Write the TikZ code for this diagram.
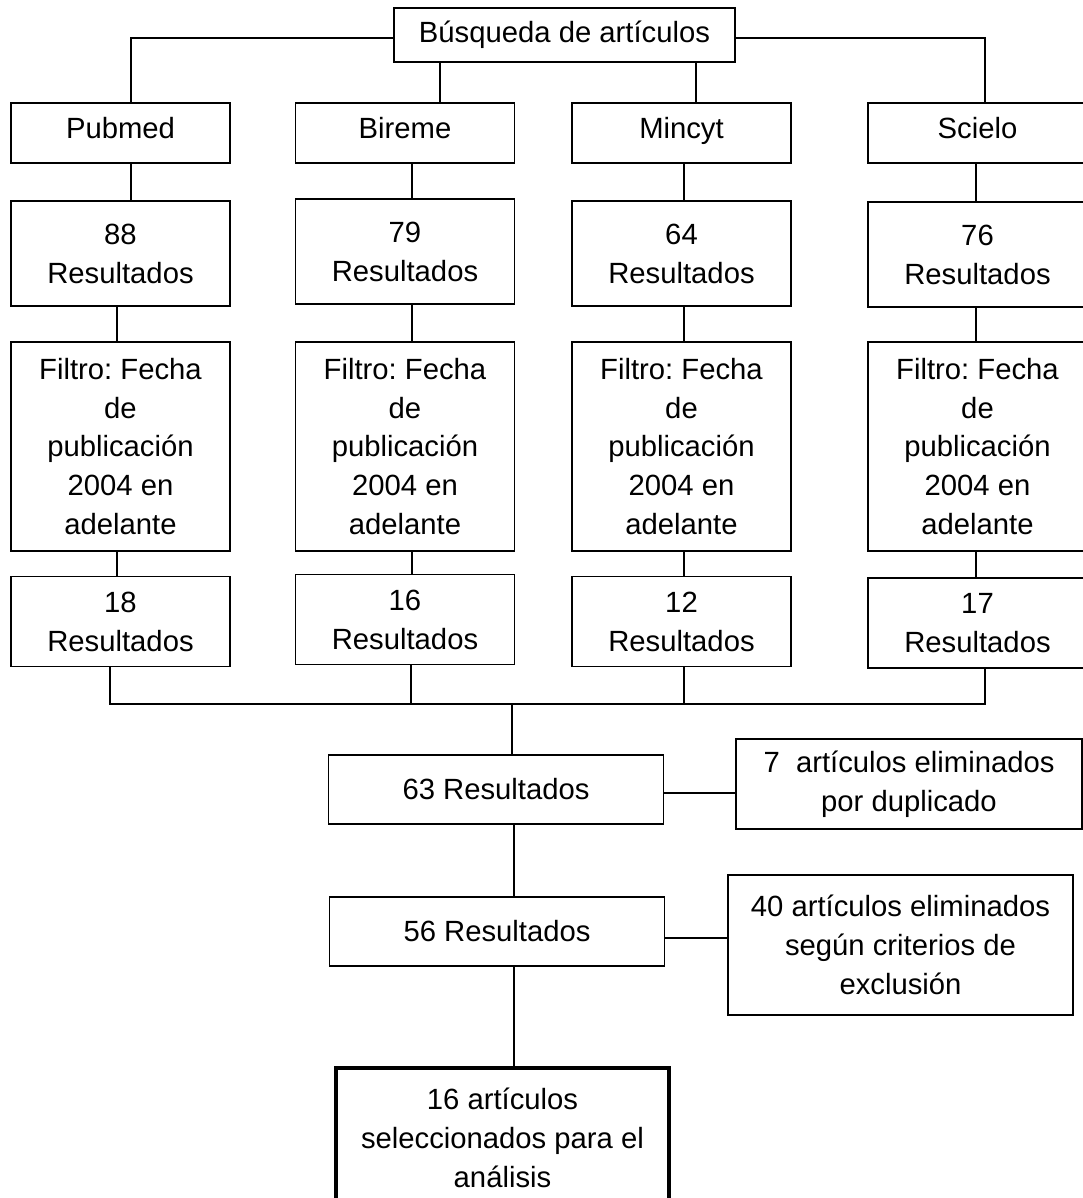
\documentclass[tikz,border=0pt]{standalone}
\usepackage{fontspec}
\setmainfont{Liberation Sans}
\frenchspacing

\begin{document}
\begin{tikzpicture}[x=0.025cm,y=-0.025cm,
  caja/.style={draw,line width=1pt,inner sep=0pt,outer sep=0pt,align=center,
    font=\fontsize{20.8}{27.7}\selectfont},
  col/.style={caja,minimum width=5.475cm},
  unalinea/.style={text height=1.5ex,text depth=.15ex},
  linea/.style={line width=1.1pt}]

\useasboundingbox (0,0) rectangle (1083,1198);

%search
\node [caja,minimum width=8.525cm,minimum height=1.35cm] (busqueda) at (564.5,35) {Búsqueda de artículos};

%databases
\node [col,unalinea,minimum height=1.5cm] (pubmed) at (120.5,133) {Pubmed};
\node [col,unalinea,minimum height=1.5cm] (bireme) at (405,133) {Bireme};
\node [col,unalinea,minimum height=1.5cm] (mincyt) at (681.5,133) {Mincyt};
\node [col,unalinea,minimum height=1.5cm] (scielo) at (977.5,133) {Scielo};

%first results
\node [col,minimum height=2.625cm] (pubmedA) at (120.5,253.5) {88\\Resultados};
\node [col,minimum height=2.625cm] (biremeA) at (405,251.5) {79\\Resultados};
\node [col,minimum height=2.625cm] (mincytA) at (681.5,253.5) {64\\Resultados};
\node [col,minimum height=2.625cm] (scieloA) at (977.5,254.5) {76\\Resultados};

%date filter
\node [col,minimum height=5.225cm] (pubmedF) at (120.5,446.5) {Filtro: Fecha\\de\\publicación\\2004 en\\adelante};
\node [col,minimum height=5.225cm] (biremeF) at (405,446.5) {Filtro: Fecha\\de\\publicación\\2004 en\\adelante};
\node [col,minimum height=5.225cm] (mincytF) at (681.5,446.5) {Filtro: Fecha\\de\\publicación\\2004 en\\adelante};
\node [col,minimum height=5.225cm] (scieloF) at (977.5,446.5) {Filtro: Fecha\\de\\publicación\\2004 en\\adelante};

%filtered results
\node [col,minimum height=2.25cm] (pubmedB) at (120.5,621.5) {18\\Resultados};
\node [col,minimum height=2.25cm] (biremeB) at (405,619.5) {16\\Resultados};
\node [col,minimum height=2.25cm] (mincytB) at (681.5,621.5) {12\\Resultados};
\node [col,minimum height=2.25cm] (scieloB) at (977.5,623) {17\\Resultados};

%merged results
\node [caja,minimum width=8.375cm,minimum height=1.725cm] (total) at (496,789.5) {63 Resultados};
\node [caja,minimum width=8.65cm,minimum height=2.25cm] (duplicados) at (909,784) {7 \ artículos eliminados\\por duplicado};
\node [caja,minimum width=8.375cm,minimum height=1.725cm] (resto) at (497,931.5) {56 Resultados};
\node [caja,minimum width=8.625cm,minimum height=3.5cm] (excluidos) at (900.5,945) {40 artículos eliminados\\según criterios de\\exclusión};
\node [caja,line width=2.9pt,minimum width=8.325cm,minimum height=3.5cm] (final) at (502.5,1138) {16 artículos\\seleccionados para el\\análisis};

%top connectors
\draw [linea] ([shift={(0,3)}]busqueda.west) -| ([shift={(10.5,0)}]pubmed.north) ;
\draw [linea] ([shift={(0,3)}]busqueda.east) -| ([shift={(7.5,0)}]scielo.north) ;
\draw [linea] ([shift={(35,0)}]bireme.north) -- ([shift={(35,0)}]bireme.north |- busqueda.south) ;
\draw [linea] ([shift={(14.5,0)}]mincyt.north) -- ([shift={(14.5,0)}]mincyt.north |- busqueda.south) ;

%column connectors
\draw [linea] ([shift={(10.5,0)}]pubmed.south) -- ([shift={(10.5,0)}]pubmedA.north) ;
\draw [linea] ([shift={(-3.5,0)}]pubmedA.south) -- ([shift={(-3.5,0)}]pubmedF.north) ;
\draw [linea] ([shift={(-3.5,0)}]pubmedF.south) -- ([shift={(-3.5,0)}]pubmedB.north) ;

\draw [linea] ([shift={(7,0)}]bireme.south) -- ([shift={(7,0)}]biremeA.north) ;
\draw [linea] ([shift={(7,0)}]biremeA.south) -- ([shift={(7,0)}]biremeF.north) ;
\draw [linea] ([shift={(7,0)}]biremeF.south) -- ([shift={(7,0)}]biremeB.north) ;

\draw [linea] ([shift={(2.5,0)}]mincyt.south) -- ([shift={(2.5,0)}]mincytA.north) ;
\draw [linea] ([shift={(2.5,0)}]mincytA.south) -- ([shift={(2.5,0)}]mincytF.north) ;
\draw [linea] ([shift={(2.5,0)}]mincytF.south) -- ([shift={(2.5,0)}]mincytB.north) ;

\draw [linea] ([shift={(-1.5,0)}]scielo.south) -- ([shift={(-1.5,0)}]scieloA.north) ;
\draw [linea] ([shift={(-1.5,0)}]scieloA.south) -- ([shift={(-1.5,0)}]scieloF.north) ;
\draw [linea] ([shift={(-1.5,0)}]scieloF.south) -- ([shift={(-1.5,0)}]scieloB.north) ;

%bus
\coordinate (bus) at (512,704) ;
\draw [linea] ([shift={(-10.5,0)}]pubmedB.south) |- (bus) -| ([shift={(7.5,0)}]scieloB.south) ;
\draw [linea] ([shift={(6,0)}]biremeB.south) -- ([shift={(6,0)}]biremeB.south |- bus) ;
\draw [linea] ([shift={(2.5,0)}]mincytB.south) -- ([shift={(2.5,0)}]mincytB.south |- bus) ;
\draw [linea] (bus) -- (bus |- total.north) ;

%lower connectors
\draw [linea] ([shift={(18,0)}]total.south) -- ([shift={(17,0)}]resto.north) ;
\draw [linea] ([shift={(17,0)}]resto.south) -- ([shift={(17,0)}]resto.south |- final.north) ;
\draw [linea] ([shift={(0,3.5)}]total.east) -- ([shift={(0,3.5)}]total.east -| duplicados.west) ;
\draw [linea] ([shift={(0,6.5)}]resto.east) -- ([shift={(0,6.5)}]resto.east -| excluidos.west) ;

\end{tikzpicture}
\end{document}
